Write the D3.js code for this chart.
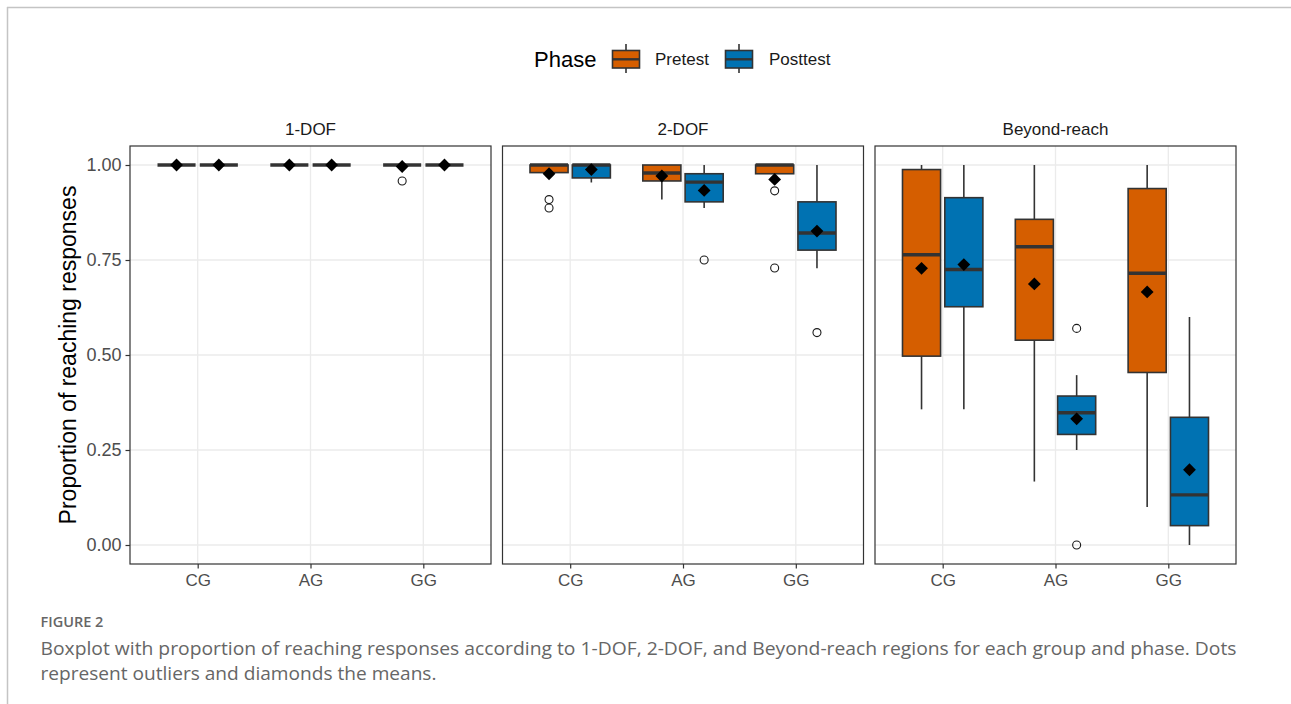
<!DOCTYPE html>
<html>
<head>
<meta charset="utf-8">
<script src="https://cdn.jsdelivr.net/npm/d3@7"></script>
<style>
  html, body { margin: 0; padding: 0; background: #fff; }
  svg { display: block; }
</style>
</head>
<body>
<svg id="chart" width="1291" height="704"></svg>
<script>
// ---------------- DATA ----------------
const regions = ["1-DOF", "2-DOF", "Beyond-reach"];
const groups = ["CG", "AG", "GG"];
const phases = ["Pretest", "Posttest"];
const yTicks = [0, 0.25, 0.5, 0.75, 1.0];
const yTickLabels = ["0.00", "0.25", "0.50", "0.75", "1.00"];

// order: region (1-DOF, 2-DOF, Beyond-reach) x group (CG, AG, GG) x phase (Pretest, Posttest)
const boxRegion = ["1-DOF","1-DOF","1-DOF","1-DOF","1-DOF","1-DOF",
                   "2-DOF","2-DOF","2-DOF","2-DOF","2-DOF","2-DOF",
                   "Beyond-reach","Beyond-reach","Beyond-reach","Beyond-reach","Beyond-reach","Beyond-reach"];
const boxGroup = ["CG","CG","AG","AG","GG","GG","CG","CG","AG","AG","GG","GG","CG","CG","AG","AG","GG","GG"];
const boxPhase = ["Pretest","Posttest","Pretest","Posttest","Pretest","Posttest",
                  "Pretest","Posttest","Pretest","Posttest","Pretest","Posttest",
                  "Pretest","Posttest","Pretest","Posttest","Pretest","Posttest"];
const whiskerLow  = [1, 1, 1, 1, 1, 1,   0.980, 0.954, 0.909, 0.887, 0.977, 0.728,   0.357, 0.357, 0.167, 0.250, 0.100, 0.000];
const q1          = [1, 1, 1, 1, 1, 1,   0.980, 0.966, 0.958, 0.903, 0.977, 0.776,   0.497, 0.627, 0.539, 0.291, 0.454, 0.051];
const medians     = [1, 1, 1, 1, 1, 1,   1.000, 1.000, 0.979, 0.955, 1.000, 0.821,   0.764, 0.725, 0.785, 0.348, 0.715, 0.132];
const q3          = [1, 1, 1, 1, 1, 1,   1.000, 1.000, 1.000, 0.977, 1.000, 0.903,   0.988, 0.914, 0.857, 0.392, 0.938, 0.336];
const whiskerHigh = [1, 1, 1, 1, 1, 1,   1.000, 1.000, 1.000, 1.000, 1.000, 1.000,   1.000, 1.000, 1.000, 0.447, 1.000, 0.600];
const means       = [1, 1, 1, 1, 0.996, 1,   0.977, 0.988, 0.971, 0.933, 0.962, 0.826,   0.728, 0.738, 0.687, 0.332, 0.666, 0.198];
const outliers    = [[], [], [], [], [0.958], [],
                     [0.909, 0.887], [], [], [0.750], [0.932, 0.729], [0.559],
                     [], [], [], [0.570, 0.000], [], []];

const phaseColors = ["#D55E00", "#0072B2"];
const captionTitle = "FIGURE 2";
const captionLines = [
  "Boxplot with proportion of reaching responses according to 1-DOF, 2-DOF, and Beyond-reach regions for each group and phase. Dots",
  "represent outliers and diamonds the means."
];

// ---------------- LAYOUT ----------------
const svg = d3.select("#chart");
const FONT = "'Liberation Sans', Arial, Helvetica, sans-serif";
const panelX0 = [130, 502.5, 875];
const panelW = 361;
const panelTop = 146, panelBottom = 564;

const y = d3.scaleLinear().domain([-0.05, 1.05]).range([panelBottom, panelTop]);
const color = d3.scaleOrdinal().domain(phases).range(phaseColors);

// figure frame (top + left)
svg.append("line").attr("x1", 7).attr("x2", 1291).attr("y1", 7.5).attr("y2", 7.5)
  .attr("stroke", "#c4c4c4").attr("stroke-width", 1.5);
svg.append("line").attr("x1", 7.5).attr("x2", 7.5).attr("y1", 7).attr("y2", 704)
  .attr("stroke", "#c4c4c4").attr("stroke-width", 1.5);

const diamond = d3.symbol().type(d3.symbolSquare).size(82);

regions.forEach((reg, ri) => {
  const x0 = panelX0[ri];
  const x = d3.scalePoint().domain(groups).range([x0, x0 + panelW]).padding(0.6);
  const step = x.step();
  const dodge = d3.scaleBand().domain(phases).range([-0.375 * step, 0.375 * step]);
  const bw = dodge.bandwidth() * 0.9;
  const g = svg.append("g");

  // grid
  g.selectAll(".hg").data(yTicks).join("line")
    .attr("x1", x0).attr("x2", x0 + panelW)
    .attr("y1", d => y(d)).attr("y2", d => y(d))
    .attr("stroke", "#ebebeb").attr("stroke-width", 1.3);
  g.selectAll(".vg").data(groups).join("line")
    .attr("x1", d => x(d)).attr("x2", d => x(d))
    .attr("y1", panelTop).attr("y2", panelBottom)
    .attr("stroke", "#ebebeb").attr("stroke-width", 1.3);

  // strip label
  g.append("text").attr("x", x0 + panelW / 2).attr("y", 135)
    .attr("text-anchor", "middle").attr("font-family", FONT).attr("font-size", 17)
    .attr("fill", "#1a1a1a").text(reg);

  // x axis
  const xAxis = d3.axisBottom(x).tickSize(4.5).tickPadding(4);
  const ax = svg.append("g").attr("transform", `translate(0,${panelBottom})`).call(xAxis);
  ax.select(".domain").remove();
  ax.selectAll(".tick line").attr("stroke", "#333").attr("stroke-width", 1.2);
  ax.selectAll(".tick text").attr("font-family", FONT).attr("font-size", 17)
    .attr("fill", "#4d4d4d").attr("dy", "0.8em");

  // y axis only on first panel
  if (ri === 0) {
    const yAxis = d3.axisLeft(y).tickValues(yTicks)
      .tickFormat((d, i) => yTickLabels[i]).tickSize(4.5).tickPadding(4);
    const ay = svg.append("g").attr("transform", `translate(${x0},0)`).call(yAxis);
    ay.select(".domain").remove();
    ay.selectAll(".tick line").attr("stroke", "#333").attr("stroke-width", 1.2);
    ay.selectAll(".tick text").attr("font-family", FONT).attr("font-size", 18)
      .attr("fill", "#4d4d4d");
  }

  // boxes
  const idx = d3.range(boxRegion.length).filter(i => boxRegion[i] === reg);
  idx.forEach(i => {
    const cx = x(boxGroup[i]) + dodge(boxPhase[i]) + dodge.bandwidth() / 2;
    const bg = g.append("g");
    // whiskers
    bg.append("line").attr("x1", cx).attr("x2", cx)
      .attr("y1", y(q3[i])).attr("y2", y(whiskerHigh[i]))
      .attr("stroke", "#333").attr("stroke-width", 1.6);
    bg.append("line").attr("x1", cx).attr("x2", cx)
      .attr("y1", y(q1[i])).attr("y2", y(whiskerLow[i]))
      .attr("stroke", "#333").attr("stroke-width", 1.6);
    // box
    bg.append("rect").attr("x", cx - bw / 2).attr("width", bw)
      .attr("y", y(q3[i])).attr("height", Math.max(0, y(q1[i]) - y(q3[i])))
      .attr("fill", color(boxPhase[i])).attr("stroke", "#333").attr("stroke-width", 1.6);
    // median
    bg.append("line").attr("x1", cx - bw / 2).attr("x2", cx + bw / 2)
      .attr("y1", y(medians[i])).attr("y2", y(medians[i]))
      .attr("stroke", "#333").attr("stroke-width", 3.4);
    // outliers
    bg.selectAll("circle").data(outliers[i]).join("circle")
      .attr("cx", cx).attr("cy", d => y(d)).attr("r", 4)
      .attr("fill", "none").attr("stroke", "#1a1a1a").attr("stroke-width", 1.1);
    // mean diamond
    bg.append("path").attr("d", diamond)
      .attr("transform", `translate(${cx},${y(means[i])}) rotate(45)`)
      .attr("fill", "#000");
  });

  // panel border
  g.append("rect").attr("x", x0).attr("y", panelTop).attr("width", panelW)
    .attr("height", panelBottom - panelTop).attr("fill", "none")
    .attr("stroke", "#333").attr("stroke-width", 1.2);
});

// y axis title
svg.append("text")
  .attr("transform", `translate(76,${(panelTop + panelBottom) / 2}) rotate(-90)`)
  .attr("text-anchor", "middle").attr("font-family", FONT).attr("font-size", 23)
  .attr("fill", "#000").text("Proportion of reaching responses");

// legend
const leg = svg.append("g");
leg.append("text").attr("x", 534).attr("y", 67).attr("font-family", FONT)
  .attr("font-size", 22).attr("fill", "#000").text("Phase");
const keyX = [612.5, 725.5];
const labX = [655, 769];
phases.forEach((p, i) => {
  const kx = keyX[i], kw = 27, cx = kx + kw / 2;
  leg.append("line").attr("x1", cx).attr("x2", cx).attr("y1", 44).attr("y2", 73)
    .attr("stroke", "#333").attr("stroke-width", 1.6);
  leg.append("rect").attr("x", kx).attr("y", 50.5).attr("width", kw).attr("height", 17.5)
    .attr("fill", color(p)).attr("stroke", "#333").attr("stroke-width", 1.6);
  leg.append("line").attr("x1", kx).attr("x2", kx + kw).attr("y1", 59.3).attr("y2", 59.3)
    .attr("stroke", "#333").attr("stroke-width", 2.4);
  leg.append("text").attr("x", labX[i]).attr("y", 65).attr("font-family", FONT)
    .attr("font-size", 17).attr("fill", "#1a1a1a").text(p);
});

// caption
svg.append("text").attr("x", 40.5).attr("y", 627).attr("font-family", "'Open Sans', sans-serif")
  .attr("font-weight", 600).attr("font-size", 14.5).attr("fill", "#666").text(captionTitle);
const capLengths = [1196, 396];
captionLines.forEach((t, i) => {
  svg.append("text").attr("x", 40.5).attr("y", 655 + i * 25)
    .attr("font-family", "'Open Sans', sans-serif").attr("font-weight", 400)
    .attr("font-size", 18.5).attr("fill", "#666").text(t)
    .attr("textLength", capLengths[i]).attr("lengthAdjust", "spacingAndGlyphs");
});
</script>
</body>
</html>
